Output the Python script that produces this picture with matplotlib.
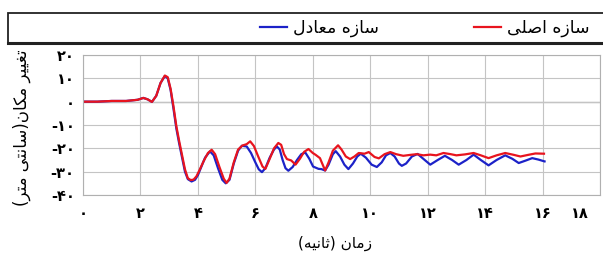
import matplotlib
matplotlib.use('Agg')
import matplotlib.pyplot as plt
from matplotlib.patches import Rectangle
from matplotlib.lines import Line2D
from matplotlib.transforms import ScaledTranslation

# time (s) / displacement (cm)
t_red = [0.0, 0.5, 1.0, 1.5, 1.9, 2.1, 2.25, 2.4, 2.55, 2.7, 2.85, 2.95, 3.05, 3.15, 3.25,
         3.35, 3.45, 3.55, 3.65, 3.75, 3.85, 3.95, 4.05, 4.2, 4.35, 4.48, 4.6, 4.75, 4.9,
         5.0, 5.1, 5.25, 5.4, 5.55, 5.7, 5.82, 5.95, 6.1, 6.25, 6.35, 6.5, 6.65, 6.8, 6.9,
         7.0, 7.1, 7.25, 7.4, 7.55, 7.7, 7.85, 8.0, 8.1, 8.25, 8.43, 8.55, 8.7, 8.88, 9.0,
         9.15, 9.3, 9.45, 9.6, 9.8, 9.95, 10.15, 10.3, 10.5, 10.7, 10.9, 11.15, 11.4, 11.62,
         11.85, 12.09, 12.3, 12.55, 12.8, 13.0, 13.3, 13.6, 13.85, 14.12, 14.4, 14.7, 15.0,
         15.23, 15.5, 15.75, 16.05]
d_red = [0.0, 0.0, 0.3, 0.3, 0.8, 1.6, 1.0, -0.1, 2.5, 8.0, 11.2, 10.5, 5.5, -2.0, -10.5,
         -17.0, -23.0, -29.0, -32.8, -33.6, -33.4, -32.0, -29.5, -25.5, -22.0, -20.6, -22.5,
         -28.0, -33.0, -34.8, -33.0, -26.0, -20.5, -18.8, -18.2, -17.0, -19.0, -23.5, -27.8,
         -28.8, -24.5, -20.0, -17.7, -18.5, -22.5, -24.6, -25.2, -27.0, -24.5, -21.5, -20.3,
         -22.0, -22.8, -24.2, -29.5, -26.0, -21.0, -18.7, -20.5, -23.5, -24.6, -23.5, -22.0,
         -22.3, -21.6, -23.7, -24.3, -22.5, -21.6, -22.5, -23.2, -22.8, -22.5, -23.0, -22.7,
         -23.0, -22.0, -22.5, -23.0, -22.6, -22.0, -23.0, -24.2, -23.0, -22.0, -22.8, -23.5,
         -22.8, -22.2, -22.3]

t_blue = [0.0, 0.5, 1.0, 1.5, 1.9, 2.1, 2.25, 2.4, 2.55, 2.7, 2.85, 2.95, 3.05, 3.15, 3.25,
          3.35, 3.45, 3.55, 3.65, 3.78, 3.9, 4.0, 4.1, 4.25, 4.42, 4.55, 4.7, 4.85, 4.97,
          5.1, 5.25, 5.4, 5.53, 5.7, 5.85, 6.0, 6.12, 6.23, 6.35, 6.5, 6.65, 6.75, 6.85,
          6.95, 7.05, 7.15, 7.3, 7.45, 7.6, 7.74, 7.88, 8.01, 8.2, 8.3, 8.43, 8.55, 8.7,
          8.8, 8.95, 9.1, 9.24, 9.4, 9.55, 9.67, 9.85, 10.05, 10.23, 10.4, 10.55, 10.7,
          10.85, 11.0, 11.1, 11.25, 11.45, 11.65, 11.85, 12.09, 12.35, 12.6, 12.85, 13.08,
          13.35, 13.6, 13.85, 14.12, 14.4, 14.7, 14.95, 15.17, 15.4, 15.64, 15.85, 16.07]
d_blue = [0.0, 0.0, 0.3, 0.3, 0.8, 1.6, 1.0, -0.1, 2.5, 8.0, 11.0, 10.0, 5.0, -3.0, -11.5,
          -18.0, -24.0, -30.0, -33.2, -34.2, -33.5, -31.5, -28.5, -24.0, -21.3, -23.0,
          -28.5, -33.5, -35.0, -33.5, -26.5, -21.0, -18.9, -19.2, -22.0, -26.0, -29.0,
          -30.2, -28.5, -24.0, -20.5, -19.2, -20.5, -25.0, -28.5, -29.6, -28.0, -25.0,
          -22.5, -21.8, -24.5, -27.8, -28.8, -28.9, -29.5, -27.0, -22.5, -21.2, -23.5,
          -27.0, -28.9, -26.5, -23.5, -22.3, -24.0, -27.0, -28.0, -26.0, -23.0, -22.0,
          -23.5, -26.5, -27.5, -26.5, -23.5, -22.4, -24.5, -27.0, -25.0, -23.2, -25.0,
          -27.0, -25.0, -22.7, -25.0, -27.3, -25.0, -23.0, -24.5, -26.3, -25.3, -24.2,
          -24.8, -25.6]

x_ticks = [0, 2, 4, 6, 8, 10, 12, 14, 16, 18]
x_ticklabels = ['۰', '۲', '۴', '۶', '۸', '۱۰', '۱۲', '۱۴', '۱۶', '۱۸']
y_ticks = [20, 10, 0, -10, -20, -30, -40]
y_ticklabels = ['۲۰', '۱۰', '۰', '-۱۰', '-۲۰', '-۳۰', '-۴۰']

label_red = 'سازه اصلی'
label_blue = 'سازه معادل'
x_title = 'زمان (ثانیه)'
y_title = 'تغییر مکان(سانتی متر)'

# matplotlib has no arabic shaping, so pick the presentation forms by hand
# letter: (isolated, final, initial, medial)
FORMS = {
    'ا': ('\uFE8D', '\uFE8E', None, None),
    'ب': ('\uFE8F', '\uFE90', '\uFE91', '\uFE92'),
    'ت': ('\uFE95', '\uFE96', '\uFE97', '\uFE98'),
    'ث': ('\uFE99', '\uFE9A', '\uFE9B', '\uFE9C'),
    'د': ('\uFEA9', '\uFEAA', None, None),
    'ر': ('\uFEAD', '\uFEAE', None, None),
    'ز': ('\uFEAF', '\uFEB0', None, None),
    'س': ('\uFEB1', '\uFEB2', '\uFEB3', '\uFEB4'),
    'ص': ('\uFEB9', '\uFEBA', '\uFEBB', '\uFEBC'),
    'ع': ('\uFEC9', '\uFECA', '\uFECB', '\uFECC'),
    'غ': ('\uFECD', '\uFECE', '\uFECF', '\uFED0'),
    'ک': ('\uFB8E', '\uFB8F', '\uFB90', '\uFB91'),
    'ل': ('\uFEDD', '\uFEDE', '\uFEDF', '\uFEE0'),
    'م': ('\uFEE1', '\uFEE2', '\uFEE3', '\uFEE4'),
    'ن': ('\uFEE5', '\uFEE6', '\uFEE7', '\uFEE8'),
    'ه': ('\uFEE9', '\uFEEA', '\uFEEB', '\uFEEC'),
    'ی': ('\uFBFC', '\uFBFD', '\uFBFE', '\uFBFF'),
}


def shape(s):
    out = []
    for i, ch in enumerate(s):
        if ch not in FORMS:
            out.append(ch)
            continue
        prev = s[i - 1] if i > 0 else ''
        nxt = s[i + 1] if i + 1 < len(s) else ''
        join_prev = prev in FORMS and FORMS[prev][2] is not None
        join_next = nxt in FORMS and FORMS[ch][2] is not None
        iso, fin, ini, med = FORMS[ch]
        if join_prev and join_next:
            out.append(med)
        elif join_prev:
            out.append(fin)
        elif join_next:
            out.append(ini)
        else:
            out.append(iso)
    mirror = {'(': ')', ')': '('}
    return ''.join(mirror.get(c, c) for c in reversed(out))


plt.rcParams['font.family'] = ['DejaVu Sans']

fig = plt.figure(figsize=(6.03, 2.61), dpi=100)
ax = fig.add_axes([83 / 603, 1 - 195 / 261, 517 / 603, 140 / 261])

ax.plot(t_blue, d_blue, color='#1c22c8', lw=1.6, label=shape(label_blue))
ax.plot(t_red, d_red, color='#e8141e', lw=1.6, label=shape(label_red))

ax.set_xlim(0, 18)
ax.set_ylim(-40, 20)
ax.set_xticks(x_ticks)
ax.set_xticklabels(x_ticklabels, fontsize=10.5, fontweight='bold')
ax.set_yticks(y_ticks)
ax.set_yticklabels(y_ticklabels, fontsize=10.5, fontweight='bold')
ax.tick_params(length=0, pad=6)
ax.tick_params(axis='x', pad=8)
# last x label sits a bit inside the edge
last = ax.get_xticklabels()[-1]
last.set_transform(last.get_transform() + ScaledTranslation(-0.2, 0, fig.dpi_scale_trans))
ax.grid(True, color='#c4c4c4', lw=0.8)
ax.axhline(0, color='#8c8c8c', lw=0.9, zorder=1)
for s in ax.spines.values():
    s.set_color('#b0b0b0')
    s.set_linewidth(0.8)

fig.text(335 / 603, 1 - 243 / 261, shape(x_title), ha='center', va='center', fontsize=11)
fig.text(22 / 603, 1 - 128 / 261, shape(y_title), ha='center', va='center',
         rotation=90, fontsize=12)

# legend strip across the top
fig.patches.append(Rectangle((8 / 603, 1 - 43 / 261), 1.0, 30 / 261, transform=fig.transFigure,
                             fill=False, ec='#222222', lw=1.3))
fig.add_artist(Line2D([8 / 603, 1.0], [1 - 43 / 261, 1 - 43 / 261], transform=fig.transFigure,
                      color='#222222', lw=2.2))
h, l = ax.get_legend_handles_labels()
fig.legend(h, l, loc='center', bbox_to_anchor=(425 / 603, 1 - 28 / 261), ncol=2, frameon=False,
           fontsize=12.5, handlelength=1.55, handletextpad=0.35, columnspacing=5.5)

fig.savefig('out.png', dpi=100)
